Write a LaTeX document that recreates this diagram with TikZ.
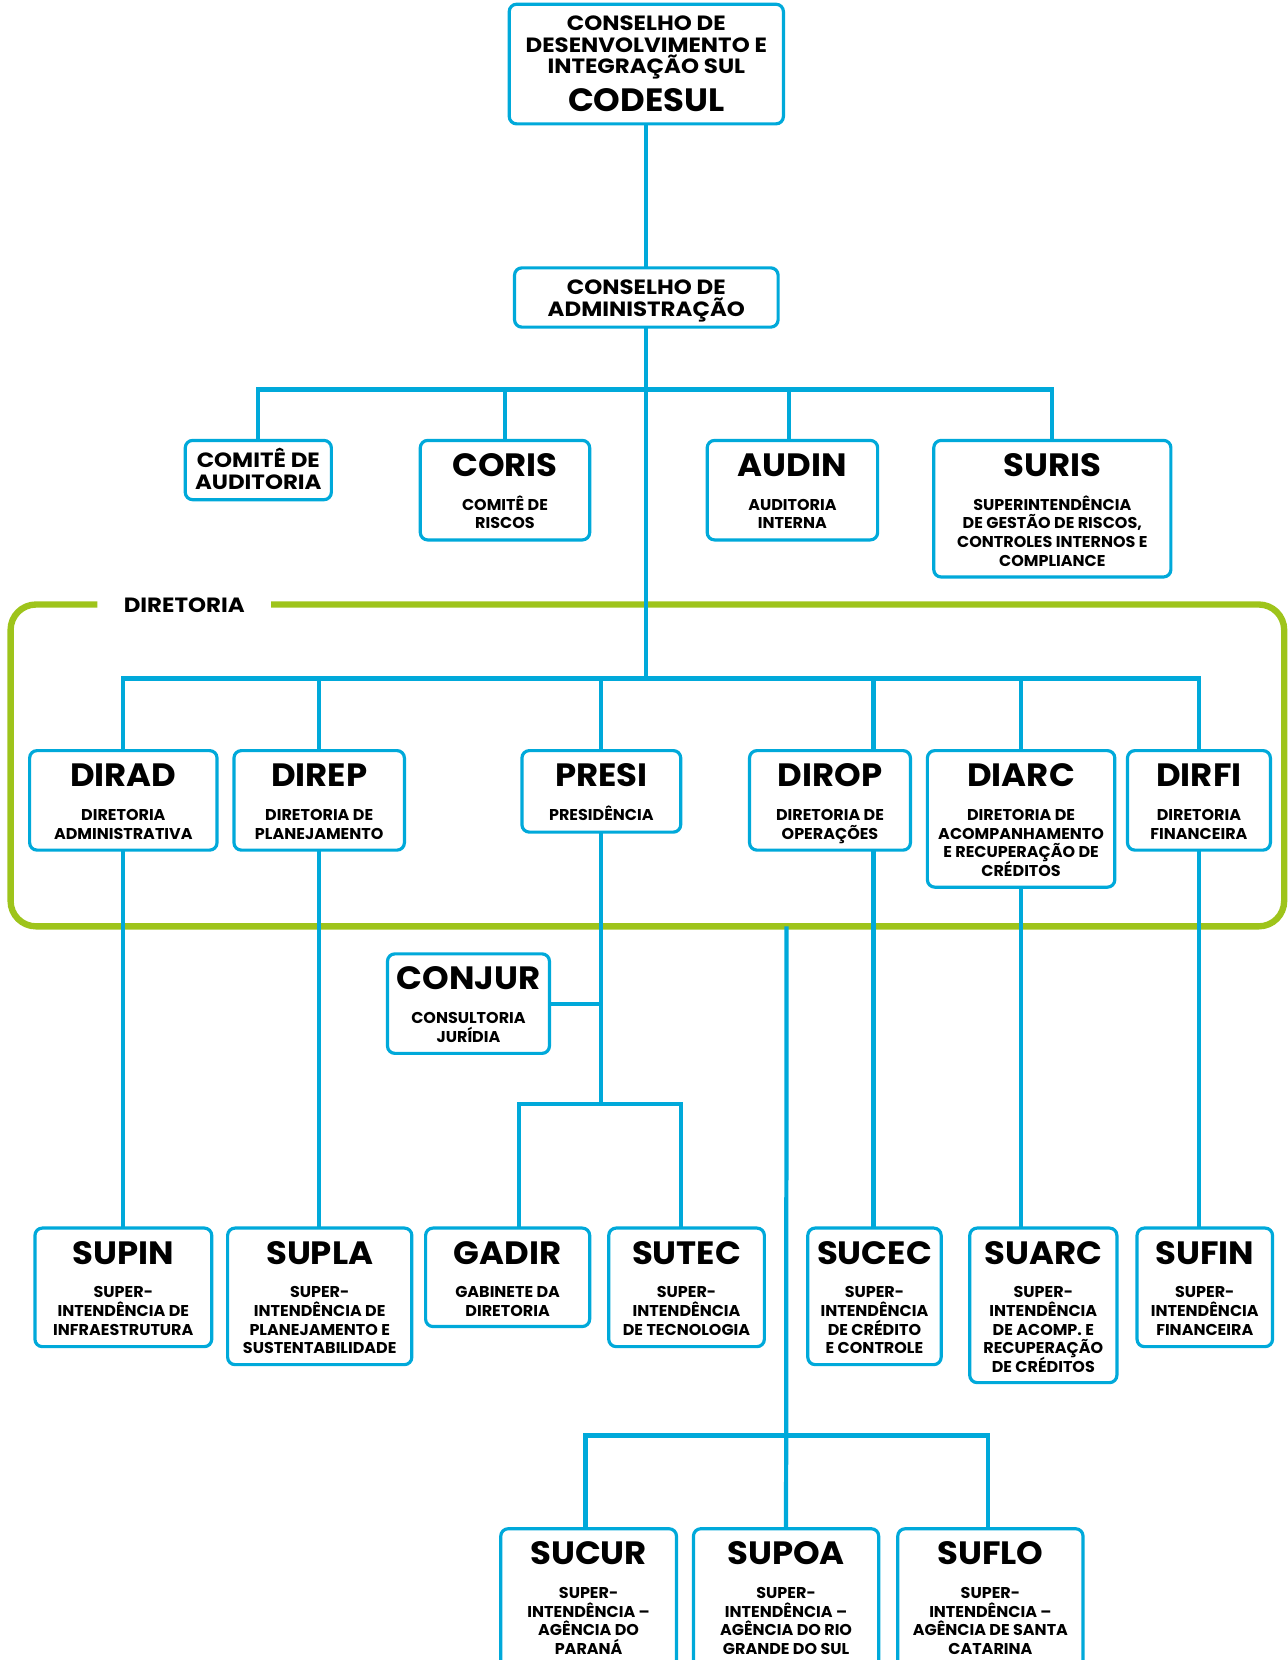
\documentclass[tikz,border=0pt]{standalone}
\usepackage{fontspec}
\setmainfont{Poppins}
\newfontfamily\medf{Poppins}[FakeStretch=1.11]
\newfontfamily\ttlf{Poppins}[FakeStretch=1.05]
\newfontfamily\subf{Poppins}[FakeStretch=1.02]
\definecolor{cblue}{HTML}{00A9DA}
\definecolor{cgreen}{HTML}{9EC41B}
\pgfdeclarelayer{back}
\pgfsetlayers{back,main}
\newcommand\obox[7]{%
  \node[box, minimum width={#3-#2}, minimum height={#5-#4}, anchor=north west] (#1) at (#2,-#4) {};
  \node[ttl] (#1-t) at ({(#2+#3)/2},{-#4-34}) {#6};
  \foreach \sline [count=\i] in {#7} {\node[sub] (#1-\i) at ({(#2+#3)/2},{-#4-66-17.6*(\i-1)}) {\sline};}%
}
\begin{document}
\begin{tikzpicture}[x=1pt,y=1pt,
  box/.style={draw=cblue, line width=3pt, rounded corners=7pt, fill=white, inner sep=0pt, outer sep=0pt},
  ttl/.style={font=\ttlf\fontsize{30.5}{31}\selectfont\bfseries, inner sep=0pt, anchor=base},
  sub/.style={font=\subf\fontsize{14.8}{18}\selectfont\bfseries, inner sep=0pt, anchor=base},
  med/.style={font=\medf\fontsize{19.5}{21}\selectfont\bfseries, inner sep=0pt, anchor=base},
  conn/.style={draw=cblue, line width=4pt},
  frame/.style={draw=cgreen, line width=6pt, rounded corners=24pt}]
\useasboundingbox (0,0) rectangle (1216,-1568);

% top boxes
\node[box, minimum width=259, minimum height=113, anchor=north west] (cdi) at (481,-4) {};
\node[med] (cdi-1) at (610.5,-29) {CONSELHO DE};
\node[med] (cdi-2) at (610.5,-49.5) {DESENVOLVIMENTO E};
\node[med] (cdi-3) at (610.5,-69) {INTEGRAÇÃO SUL};
\node[ttl] (cdi-t) at (610.5,-105) {CODESUL};

\node[box, minimum width=249, minimum height=56, anchor=north west] (ca) at (486,-253) {};
\node[med] (ca-1) at (610.5,-278) {CONSELHO DE};
\node[med] (ca-2) at (610.5,-298.5) {ADMINISTRAÇÃO};

\node[box, minimum width=138, minimum height=56, anchor=north west] (cda) at (175,-416) {};
\node[med] (cda-1) at (244,-442) {COMITÊ DE};
\node[med] (cda-2) at (244,-462) {AUDITORIA};

\obox{coris}{397}{557}{416}{510}{CORIS}{COMITÊ DE,RISCOS}
\obox{audin}{668}{829}{416}{510}{AUDIN}{AUDITORIA,INTERNA}
\obox{suris}{882}{1106}{416}{545}{SURIS}{SUPERINTENDÊNCIA,{DE GESTÃO DE RISCOS,},CONTROLES INTERNOS E,COMPLIANCE}

% diretoria frame
\begin{pgfonlayer}{back}
\draw[frame] (92,-571) -- (10,-571) -- (10,-875) -- (1213,-875) -- (1213,-571) -- (256,-571);
\end{pgfonlayer}
\node[med] (dirlabel) at (174,-579) {DIRETORIA};

\obox{dirad}{28}{205}{709}{803}{DIRAD}{DIRETORIA,ADMINISTRATIVA}
\obox{direp}{221}{382}{709}{803}{DIREP}{DIRETORIA DE,PLANEJAMENTO}
\obox{presi}{493}{643}{709}{786}{PRESI}{PRESIDÊNCIA}
\obox{dirop}{708}{860}{709}{803}{DIROP}{DIRETORIA DE,OPERAÇÕES}
\obox{diarc}{876}{1053}{709}{838}{DIARC}{DIRETORIA DE,ACOMPANHAMENTO,E RECUPERAÇÃO DE,CRÉDITOS}
\obox{dirfi}{1065}{1200}{709}{803}{DIRFI}{DIRETORIA,FINANCEIRA}

\obox{conjur}{366}{519}{901}{995}{CONJUR}{CONSULTORIA,JURÍDIA}

\obox{supin}{33}{200}{1160}{1272}{SUPIN}{SUPER-,INTENDÊNCIA DE,INFRAESTRUTURA}
\obox{supla}{215}{389}{1160}{1289}{SUPLA}{SUPER-,INTENDÊNCIA DE,PLANEJAMENTO E,SUSTENTABILIDADE}
\obox{gadir}{402}{557}{1160}{1253}{GADIR}{GABINETE DA,DIRETORIA}
\obox{sutec}{575}{722}{1160}{1272}{SUTEC}{SUPER-,INTENDÊNCIA,DE TECNOLOGIA}
\obox{sucec}{763}{889}{1160}{1289}{SUCEC}{SUPER-,INTENDÊNCIA,DE CRÉDITO,E CONTROLE}
\obox{suarc}{916}{1055}{1160}{1306}{SUARC}{SUPER-,INTENDÊNCIA,DE ACOMP. E,RECUPERAÇÃO,DE CRÉDITOS}
\obox{sufin}{1074}{1202}{1160}{1272}{SUFIN}{SUPER-,INTENDÊNCIA,FINANCEIRA}

\obox{sucur}{473}{639}{1444}{1600}{SUCUR}{SUPER-,INTENDÊNCIA –,AGÊNCIA DO,PARANÁ}
\obox{supoa}{655}{830}{1444}{1600}{SUPOA}{SUPER-,INTENDÊNCIA –,AGÊNCIA DO RIO,GRANDE DO SUL}
\obox{suflo}{848}{1023}{1444}{1600}{SUFLO}{SUPER-,INTENDÊNCIA –,AGÊNCIA DE SANTA,CATARINA}

% junction coordinates
\coordinate (j1) at (610.5,-368);
\coordinate (j2) at (610.5,-641);
\coordinate (jop) at (825,-641);
\coordinate (jpr) at (568,-1043);
\coordinate (jga) at (490,-1043);
\coordinate (jst) at (643,-1043);
\coordinate (jau) at (745,-368);
\coordinate (gb) at (743,-875);
\coordinate (jbot) at (743,-1356);
\coordinate (jcu) at (553,-1356);
\coordinate (jfl) at (933,-1356);

% connectors
\draw[conn] (cdi.south) -- (ca.north);
\draw[conn] (ca.south) -- (j2);
\draw[conn] (cda.north) |- (j1) -| (suris.north);
\draw[conn] (coris.north) -- (coris.north |- j1);
\draw[conn] (jau |- audin.north) -- (jau);
\draw[conn] (dirad.north) |- (j2) -| (dirfi.north);
\draw[conn] (direp.north) -- (direp.north |- j2);
\draw[conn] (presi.north) -- (presi.north |- j2);
\draw[conn] (diarc.north) -- (diarc.north |- j2);
\draw[conn] (jop) -- (jop |- dirop.north);

\draw[conn] (dirad.south) -- (supin.north);
\draw[conn] (direp.south) -- (direp.south |- supla.north);
\draw[conn] (presi.south) -- (jpr);
\draw[conn] (conjur.east) -- (conjur.east -| presi.south);
\draw[conn] (jga |- gadir.north) -- (jga) -- (jst) -- (jst |- sutec.north);
\draw[conn] (jop |- dirop.south) -- (jop |- sucec.north);
\draw[conn] (diarc.south) -- (diarc.south |- suarc.north);
\draw[conn] (dirfi.south) -- (dirfi.south |- sufin.north);
\draw[conn] (gb) -- (supoa.north);
\draw[conn] (jcu |- sucur.north) -- (jcu) -- (jfl) -- (jfl |- suflo.north);
\end{tikzpicture}
\end{document}
